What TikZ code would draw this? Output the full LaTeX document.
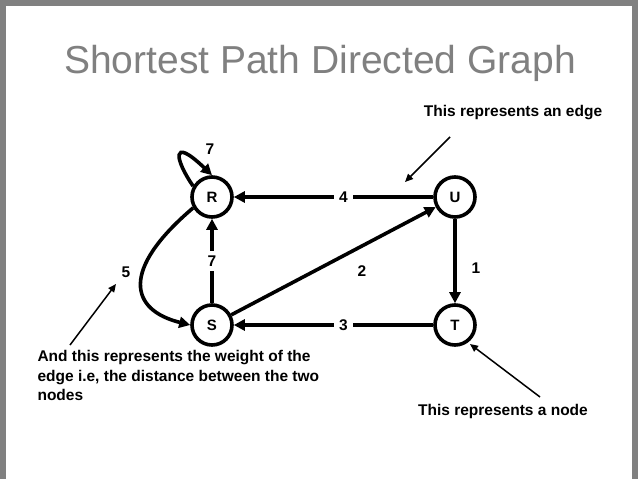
\documentclass[tikz,border=0pt]{standalone}
\usepackage{fontspec}
\setmainfont{Liberation Sans}
\usetikzlibrary{arrows.meta}
\begin{document}
\begin{tikzpicture}[x=1pt,y=-1pt,
  vert/.style={circle,draw,line width=3.6pt,minimum size=40pt,inner sep=0pt,font=\bfseries\fontsize{15}{15}\selectfont},
  edge/.style={line width=3.6pt,-{Triangle[length=11pt,width=11pt]}},
  wlab/.style={fill=white,inner sep=5pt,font=\bfseries\fontsize{15.5}{15.5}\selectfont},
  note/.style={font=\bfseries\fontsize{15.5}{19.5}\selectfont},
  ann/.style={line width=1.5pt,-{Triangle[length=8pt,width=7pt]}}]
\fill[gray] (0,0) rectangle (638,479);
\fill[white] (6,6) rectangle (632,479);
\useasboundingbox (0,0) rectangle (638,479);
\node[text=gray,font=\fontsize{39}{39}\selectfont] (title) at (320,63) {Shortest Path Directed Graph};
\node[vert] (R) at (212,197) {R};
\node[vert] (U) at (455,197) {U};
\node[vert] (S) at (212,325) {S};
\node[vert] (T) at (455,325) {T};
\draw[edge] (U) -- node[wlab,pos=0.45] (w4) {4} (R);
\draw[edge] (T) -- node[wlab,pos=0.45] (w3) {3} (S);
\draw[edge] (S) -- node[wlab] (w7) {7} (R);
\draw[edge] (U) -- (T);
\draw[edge] (S) -- (U);
\draw[edge] (R.210) .. controls (120,270) and (130,310) .. (S.west);
\draw[edge] (R.150) .. controls (175,160) and (170,135) .. (R.north);
\node[wlab] (l7) at (210,149) {7};
\node[wlab] (l5) at (126,272) {5};
\node[wlab] (l2) at (362,271) {2};
\node[wlab] (l1) at (476,268) {1};
\node[note] (n1) at (513,113) {This represents an edge};
\coordinate (a1) at (405,182);
\draw[ann] (450,137) -- (a1);
\node[note] (n2) at (503,411) {This represents a node};
\coordinate (a2) at (470,344);
\draw[ann] (540,397) -- (a2);
\node[note,anchor=north west,align=left] (n3) at (34,347) {And this represents the weight of the\\edge i.e, the distance between the two\\nodes};
\coordinate (a3) at (116,284);
\draw[ann] (70,345) -- (a3);
\end{tikzpicture}
\end{document}
